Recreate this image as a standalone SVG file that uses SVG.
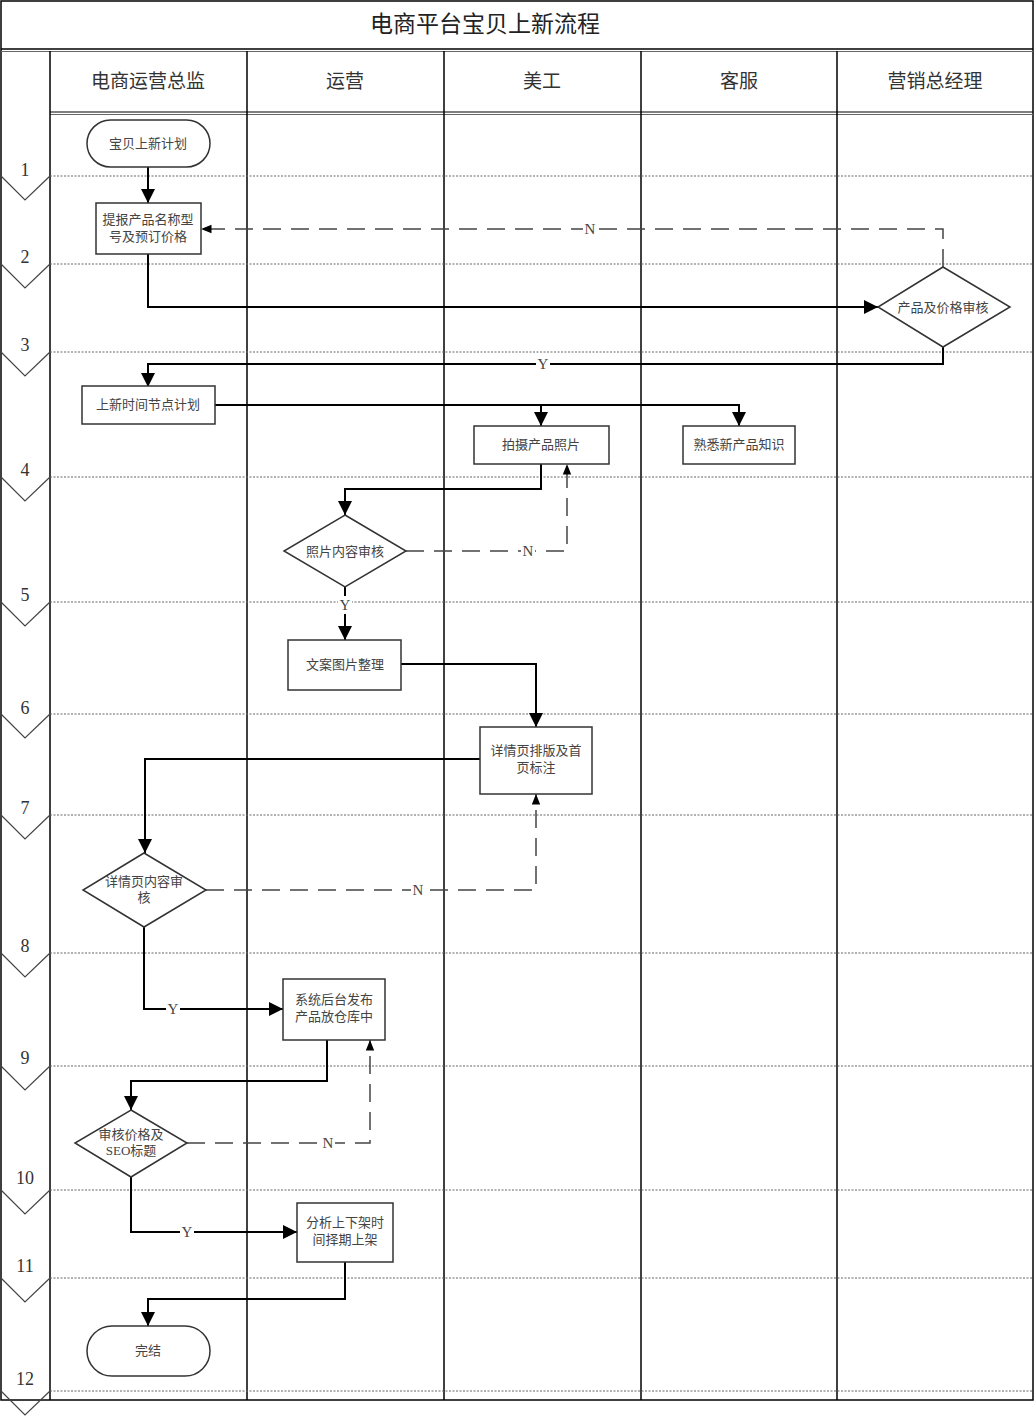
<svg xmlns="http://www.w3.org/2000/svg" width="1035" height="1417" viewBox="0 0 1035 1417">
<style>
.frame{fill:none;stroke:#000;stroke-width:1.5}
.lane{stroke:#000;stroke-width:1.5}
.dot{stroke:#666;stroke-width:1.2;stroke-dasharray:2 1.5}
.chev{fill:none;stroke:#444;stroke-width:1.2}
.num{font-family:"Liberation Serif","Noto Sans CJK SC",serif;font-size:18px;fill:#333;text-anchor:middle}
.title{font-family:"Noto Sans CJK SC",sans-serif;font-size:23px;fill:#222;text-anchor:middle}
.head{font-family:"Noto Sans CJK SC",sans-serif;font-size:19px;fill:#333;text-anchor:middle}
.shape{fill:#fff;stroke:#333;stroke-width:1.5}
.t{font-family:"Liberation Serif","Noto Sans CJK SC",serif;font-size:13px;fill:#444;text-anchor:middle}
.c{fill:none;stroke:#000;stroke-width:2}
.d{fill:none;stroke:#444;stroke-width:1.5;stroke-dasharray:18 10}
.lbl{font-family:"Liberation Serif",serif;font-size:15px;fill:#444;text-anchor:middle}
</style>
<defs>
<marker id="ah" viewBox="0 0 10 10" refX="10" refY="5" markerWidth="5" markerHeight="5" orient="auto" markerUnits="userSpaceOnUse">
<path d="M0,0 L10,5 L0,10 z" fill="#000"/>
</marker>
<marker id="a" viewBox="0 0 10 10" refX="10" refY="5" markerWidth="7" markerHeight="7" orient="auto">
<path d="M0,0 L10,5 L0,10 z" fill="#000"/>
</marker>
<marker id="ad" viewBox="0 0 10 10" refX="10" refY="5" markerWidth="7" markerHeight="7" orient="auto">
<path d="M0,1 L10,5 L0,9 z" fill="#000"/>
</marker>
</defs>
<rect width="1035" height="1417" fill="#fff"/>
<g id="frame">
<rect class="frame" x="1" y="1" width="1032" height="1399"/>
<line x1="1" y1="49" x2="1033" y2="49" stroke="#000" stroke-width="1.5"/>
<line x1="1" y1="51.5" x2="1033" y2="51.5" stroke="#666" stroke-width="1"/>
<line x1="50" y1="112" x2="1033" y2="112" stroke="#000" stroke-width="1.2"/>
<line x1="50" y1="114.5" x2="1033" y2="114.5" stroke="#666" stroke-width="1"/>
<line class="lane" x1="50" y1="51" x2="50" y2="1400"/>
<line class="lane" x1="247" y1="51" x2="247" y2="1400"/>
<line class="lane" x1="444" y1="51" x2="444" y2="1400"/>
<line class="lane" x1="641" y1="51" x2="641" y2="1400"/>
<line class="lane" x1="837" y1="51" x2="837" y2="1400"/>
<text class="title" x="485" y="32">电商平台宝贝上新流程</text>
<text class="head" x="148" y="88">电商运营总监</text>
<text class="head" x="345" y="88">运营</text>
<text class="head" x="542" y="88">美工</text>
<text class="head" x="739" y="88">客服</text>
<text class="head" x="935" y="88">营销总经理</text>
</g>
<g id="phases">
<line class="dot" x1="50" y1="176" x2="1033" y2="176"/>
<line class="dot" x1="50" y1="264" x2="1033" y2="264"/>
<line class="dot" x1="50" y1="352" x2="1033" y2="352"/>
<line class="dot" x1="50" y1="477" x2="1033" y2="477"/>
<line class="dot" x1="50" y1="602" x2="1033" y2="602"/>
<line class="dot" x1="50" y1="714" x2="1033" y2="714"/>
<line class="dot" x1="50" y1="815" x2="1033" y2="815"/>
<line class="dot" x1="50" y1="953" x2="1033" y2="953"/>
<line class="dot" x1="50" y1="1066" x2="1033" y2="1066"/>
<line class="dot" x1="50" y1="1190" x2="1033" y2="1190"/>
<line class="dot" x1="50" y1="1278" x2="1033" y2="1278"/>
<line class="dot" x1="50" y1="1391" x2="1033" y2="1391"/>
<polyline class="chev" points="1,176 25,200 50,176"/>
<polyline class="chev" points="1,264 25,288 50,264"/>
<polyline class="chev" points="1,352 25,376 50,352"/>
<polyline class="chev" points="1,477 25,501 50,477"/>
<polyline class="chev" points="1,602 25,626 50,602"/>
<polyline class="chev" points="1,714 25,738 50,714"/>
<polyline class="chev" points="1,815 25,839 50,815"/>
<polyline class="chev" points="1,953 25,977 50,953"/>
<polyline class="chev" points="1,1066 25,1090 50,1066"/>
<polyline class="chev" points="1,1190 25,1214 50,1190"/>
<polyline class="chev" points="1,1278 25,1302 50,1278"/>
<polyline class="chev" points="1,1391 25,1415 50,1391"/>
<text class="num" x="25" y="176">1</text>
<text class="num" x="25" y="263">2</text>
<text class="num" x="25" y="351">3</text>
<text class="num" x="25" y="476">4</text>
<text class="num" x="25" y="601">5</text>
<text class="num" x="25" y="714">6</text>
<text class="num" x="25" y="814">7</text>
<text class="num" x="25" y="952">8</text>
<text class="num" x="25" y="1064">9</text>
<text class="num" x="25" y="1184">10</text>
<text class="num" x="25" y="1272">11</text>
<text class="num" x="25" y="1385">12</text>
</g>
<g id="connectors">
<path class="c" d="M148,167 V203" marker-end="url(#a)"/>
<path class="d" d="M943,267 V229 H201" marker-end="url(#ad)"/>
<path class="c" d="M148,254 V307 H878" marker-end="url(#a)"/>
<path class="c" d="M943,347 V364 H148 V387" marker-end="url(#a)"/>
<path class="c" d="M215,405 H739 V426" marker-end="url(#a)"/>
<path class="c" d="M541,405 V426" marker-end="url(#a)"/>
<path class="c" d="M541,464 V489 H345 V515" marker-end="url(#a)"/>
<path class="d" d="M406,551 H567 V464" marker-end="url(#ad)"/>
<path class="c" d="M345,587 V640" marker-end="url(#a)"/>
<path class="c" d="M401,664 H536 V727" marker-end="url(#a)"/>
<path class="c" d="M480,759 H145 V853" marker-end="url(#a)"/>
<path class="d" d="M206,890 H536 V794" marker-end="url(#ad)"/>
<path class="c" d="M144,927 V1009 H283" marker-end="url(#a)"/>
<path class="c" d="M327,1040 V1081 H131 V1110" marker-end="url(#a)"/>
<path class="d" d="M187,1143 H370 V1040" marker-end="url(#ad)"/>
<path class="c" d="M131,1177 V1232 H297" marker-end="url(#a)"/>
<path class="c" d="M345,1262 V1299 H148 V1326" marker-end="url(#a)"/>
<g class="lbl">
<rect x="583" y="220" width="14" height="18" fill="#fff"/><text class="lbl" x="590" y="234">N</text>
<rect x="536" y="355" width="14" height="18" fill="#fff"/><text class="lbl" x="543" y="369">Y</text>
<rect x="521" y="542" width="14" height="18" fill="#fff"/><text class="lbl" x="528" y="556">N</text>
<rect x="338" y="596" width="14" height="18" fill="#fff"/><text class="lbl" x="345" y="610">Y</text>
<rect x="411" y="881" width="14" height="18" fill="#fff"/><text class="lbl" x="418" y="895">N</text>
<rect x="166" y="1000" width="14" height="18" fill="#fff"/><text class="lbl" x="173" y="1014">Y</text>
<rect x="321" y="1134" width="14" height="18" fill="#fff"/><text class="lbl" x="328" y="1148">N</text>
<rect x="180" y="1223" width="14" height="18" fill="#fff"/><text class="lbl" x="187" y="1237">Y</text>
</g>
</g>
<g id="n1"><rect class="shape" x="87" y="120" width="123" height="47" rx="23.5"/><text class="t" x="148" y="148">宝贝上新计划</text></g>
<g id="n2"><rect class="shape" x="96" y="203" width="105" height="51"/><text class="t" x="148" y="224">提报产品名称型</text><text class="t" x="148" y="241">号及预订价格</text></g>
<g id="n3"><polygon class="shape" points="943,267 1010,307 943,347 878,307"/><text class="t" x="943" y="312">产品及价格审核</text></g>
<g id="n4"><rect class="shape" x="82" y="386" width="133" height="38"/><text class="t" x="148" y="409">上新时间节点计划</text></g>
<g id="n5"><rect class="shape" x="474" y="426" width="135" height="38"/><text class="t" x="541" y="449">拍摄产品照片</text></g>
<g id="n6"><rect class="shape" x="683" y="426" width="112" height="38"/><text class="t" x="739" y="449">熟悉新产品知识</text></g>
<g id="n7"><polygon class="shape" points="345,515 406,551 345,587 284,551"/><text class="t" x="345" y="556">照片内容审核</text></g>
<g id="n8"><rect class="shape" x="288" y="640" width="113" height="50"/><text class="t" x="345" y="669">文案图片整理</text></g>
<g id="n9"><rect class="shape" x="480" y="727" width="112" height="67"/><text class="t" x="536" y="755">详情页排版及首</text><text class="t" x="536" y="772">页标注</text></g>
<g id="n10"><polygon class="shape" points="144,853 206,890 144,927 83,890"/><text class="t" x="144" y="886">详情页内容审</text><text class="t" x="144" y="902">核</text></g>
<g id="n11"><rect class="shape" x="283" y="979" width="102" height="61"/><text class="t" x="334" y="1004">系统后台发布</text><text class="t" x="334" y="1021">产品放仓库中</text></g>
<g id="n12"><polygon class="shape" points="131,1110 187,1143 131,1177 75,1143"/><text class="t" x="131" y="1139">审核价格及</text><text class="t" x="131" y="1155">SEO标题</text></g>
<g id="n13"><rect class="shape" x="297" y="1203" width="96" height="59"/><text class="t" x="345" y="1227">分析上下架时</text><text class="t" x="345" y="1244">间择期上架</text></g>
<g id="n14"><rect class="shape" x="87" y="1326" width="123" height="50" rx="25"/><text class="t" x="148" y="1355">完结</text></g>
</svg>
